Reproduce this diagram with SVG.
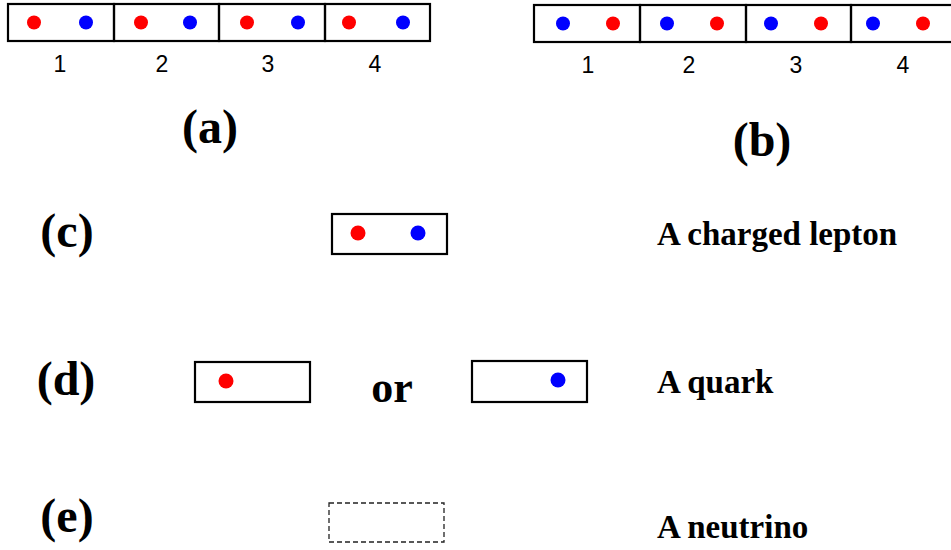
<svg xmlns="http://www.w3.org/2000/svg" width="951" height="550" viewBox="0 0 951 550">
<style>
.box{fill:none;stroke:#000;stroke-width:2.2}
.dash{fill:none;stroke:#222;stroke-width:1.3;stroke-dasharray:5 3}
.r{fill:#ff0000}
.b{fill:#0000ff}
.num{font-family:"Liberation Sans",Arial,sans-serif;font-size:23px;text-anchor:middle;fill:#000}
.lab{font-family:"Liberation Serif","Times New Roman",serif;font-weight:bold;font-size:48px;text-anchor:middle;fill:#000}
.txt{font-family:"Liberation Serif","Times New Roman",serif;font-weight:bold;font-size:33px;fill:#000}
</style>
<rect width="951" height="550" fill="#fff"/>
<g id="strip-a">
<rect class="box" x="8" y="4" width="106" height="37"/>
<rect class="box" x="114" y="4" width="105" height="37"/>
<rect class="box" x="219" y="4" width="106" height="37"/>
<rect class="box" x="325" y="4" width="105" height="37"/>
<circle class="r" cx="34" cy="22.5" r="7"/><circle class="b" cx="86" cy="22.5" r="7"/>
<circle class="r" cx="141" cy="22.5" r="7"/><circle class="b" cx="190" cy="22.5" r="7"/>
<circle class="r" cx="247" cy="22.5" r="7"/><circle class="b" cx="298" cy="22.5" r="7"/>
<circle class="r" cx="349" cy="22.5" r="7"/><circle class="b" cx="403" cy="22.5" r="7"/>
<text class="num" x="60" y="72">1</text>
<text class="num" x="162" y="72">2</text>
<text class="num" x="268" y="72">3</text>
<text class="num" x="375" y="72">4</text>
</g>
<g id="strip-b">
<rect class="box" x="534" y="5" width="106" height="37"/>
<rect class="box" x="640" y="5" width="106" height="37"/>
<rect class="box" x="746" y="5" width="105" height="37"/>
<rect class="box" x="851" y="5" width="106" height="37"/>
<circle class="b" cx="563" cy="23.5" r="7"/><circle class="r" cx="613" cy="23.5" r="7"/>
<circle class="b" cx="667" cy="23.5" r="7"/><circle class="r" cx="717" cy="23.5" r="7"/>
<circle class="b" cx="771" cy="23.5" r="7"/><circle class="r" cx="821" cy="23.5" r="7"/>
<circle class="b" cx="873" cy="23.5" r="7"/><circle class="r" cx="923" cy="23.5" r="7"/>
<text class="num" x="588" y="73">1</text>
<text class="num" x="689" y="73">2</text>
<text class="num" x="796" y="73">3</text>
<text class="num" x="903" y="73">4</text>
</g>
<g id="labels">
<text class="lab" x="210" y="143">(a)</text>
<text class="lab" x="762" y="156">(b)</text>
<text class="lab" x="67" y="247">(c)</text>
<text class="lab" x="66" y="395">(d)</text>
<text class="lab" x="67" y="532">(e)</text>
</g>
<g id="node-c">
<rect class="box" x="332" y="214" width="115" height="40"/>
<circle class="r" cx="358" cy="233" r="7.5"/>
<circle class="b" cx="418" cy="233" r="7.5"/>
</g>
<g id="node-d1">
<rect class="box" x="195" y="362" width="115" height="40"/>
<circle class="r" cx="226" cy="381" r="7.5"/>
</g>
<text class="lab" x="392" y="402" style="font-size:44px">or</text>
<g id="node-d2">
<rect class="box" x="472" y="361" width="115" height="41"/>
<circle class="b" cx="558" cy="380" r="7.5"/>
</g>
<g id="node-e">
<rect class="dash" x="329" y="503" width="115" height="39"/>
</g>
<g id="descriptions">
<text class="txt" x="657" y="245">A charged lepton</text>
<text class="txt" x="657" y="393">A quark</text>
<text class="txt" x="657" y="538">A neutrino</text>
</g>
<g id="connectors"/>
</svg>
